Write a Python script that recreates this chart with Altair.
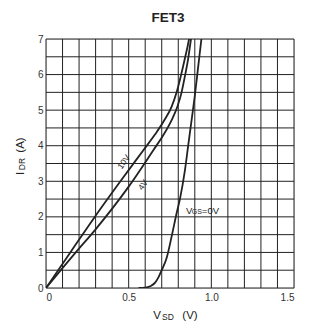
import altair as alt
import pandas as pd

# ---- data ----
v10_vsd = [0, 0.15, 0.28, 0.45, 0.59, 0.66, 0.72, 0.76, 0.79, 0.815, 0.84, 0.865, 0.875]
v10_idr = [0, 1.02, 1.9, 3.0, 3.88, 4.32, 4.75, 5.1, 5.5, 5.95, 6.45, 7.0, 7.3]

v4_vsd = [0, 0.18, 0.3, 0.5, 0.65, 0.71, 0.76, 0.795, 0.82, 0.84, 0.86, 0.877, 0.887]
v4_idr = [0, 1.0, 1.65, 2.85, 3.88, 4.3, 4.72, 5.1, 5.5, 5.95, 6.45, 7.0, 7.3]

v0_vsd = [0.56, 0.60, 0.63, 0.66, 0.68, 0.70, 0.73, 0.76, 0.79, 0.81, 0.84, 0.86, 0.88, 0.90, 0.92, 0.94, 0.945]
v0_idr = [0, 0.01, 0.05, 0.15, 0.3, 0.5, 0.85, 1.45, 2.1, 2.5, 3.3, 4.0, 4.7, 5.4, 6.2, 7.0, 7.2]

x_grid = [round(i * 0.1, 1) for i in range(16)]
y_grid = [i * 0.5 for i in range(15)]
x_labels = [0, 0.5, 1.0, 1.5]
y_labels = [0, 1, 2, 3, 4, 5, 6, 7]

label_10v = {"text": "10V", "v": 0.47, "i": 3.55}
label_4v = {"text": "4V", "v": 0.585, "i": 2.9}
label_0v = {"v": 0.847, "i": 2.16}

FONT = "Liberation Sans"
INK = "#222222"

rows = []
for name, vs, ids in [("10V", v10_vsd, v10_idr), ("4V", v4_vsd, v4_idr), ("0V", v0_vsd, v0_idr)]:
    for k, (a, b) in enumerate(zip(vs, ids)):
        rows.append({"series": name, "order": k, "vsd": a, "idr": b})
df = pd.DataFrame(rows)

xscale = alt.Scale(domain=[0, 1.5], nice=False, zero=False)
yscale = alt.Scale(domain=[0, 7], nice=False)

xaxis = alt.Axis(
    values=x_labels, grid=False, ticks=False, domain=False, labelOverlap=False,
    labelExpr="datum.value == 0 ? '0' : format(datum.value, '.1f')",
    labelFont=FONT, labelFontSize=10, labelColor="#333333", labelPadding=4,
)
yaxis = alt.Axis(
    values=y_labels, grid=False, ticks=False, domain=False, labelOverlap=False,
    labelExpr="format(datum.value, 'd')",
    labelFont=FONT, labelFontSize=10, labelColor="#333333", labelPadding=3,
)

vgrid = alt.Chart(pd.DataFrame({"g": x_grid})).mark_rule(
    color=INK, strokeWidth=1
).encode(x=alt.X("g:Q", scale=xscale, axis=xaxis, title=None))

hgrid = alt.Chart(pd.DataFrame({"g": y_grid})).mark_rule(
    color=INK, strokeWidth=1
).encode(y=alt.Y("g:Q", scale=yscale, axis=yaxis, title=None))

lines = alt.Chart(df).mark_line(
    clip=True, color=INK, strokeWidth=1.8, interpolate="monotone"
).encode(
    x=alt.X("vsd:Q", scale=xscale, axis=xaxis, title=None),
    y=alt.Y("idr:Q", scale=yscale, axis=yaxis, title=None),
    detail="series:N",
    order="order:Q",
)

def dlabel(d, text, angle=0, size=8, dx=0, dy=0, align="center"):
    return alt.Chart(pd.DataFrame([{"v": d["v"], "i": d["i"]}])).mark_text(
        text=text, angle=angle, fontSize=size, font=FONT, color=INK,
        align=align, baseline="middle", dx=dx, dy=dy
    ).encode(
        x=alt.X("v:Q", scale=xscale, axis=xaxis, title=None),
        y=alt.Y("i:Q", scale=yscale, axis=yaxis, title=None),
    )

lab10 = dlabel(label_10v, label_10v["text"], angle=305, size=8.5)
lab4 = dlabel(label_4v, label_4v["text"], angle=305, size=8.5)
lab0a = dlabel(label_0v, "V", size=9.5, align="left")
lab0b = dlabel(label_0v, "GS", size=7, align="left", dx=5.8, dy=0.8)
lab0c = dlabel(label_0v, "=0V", size=9.5, align="left", dx=15.8)

def ptext(text, x, y, size, angle=0, weight="normal"):
    return alt.Chart(pd.DataFrame([{"t": text}])).mark_text(
        text=text, fontSize=size, font=FONT, color=INK, angle=angle,
        fontWeight=weight, align="center", baseline="middle"
    ).encode(x=alt.value(x), y=alt.value(y))

title = ptext("FET3", 122, -21, 13.5, weight="bold")
xt1 = ptext("V", 111, 276.5, 11.5)
xt2 = ptext("SD", 122, 277.5, 8.5)
xt3 = ptext("(V)", 144, 276.5, 11.5)
yt1 = ptext("I", -25, 134.5, 11.5, angle=270)
yt2 = ptext("DR", -24, 125, 8.5, angle=270)
yt3 = ptext("(A)", -25, 106, 11.5, angle=270)

chart = alt.layer(
    vgrid, hgrid, lines, lab10, lab4, lab0a, lab0b, lab0c,
    title, xt1, xt2, xt3, yt1, yt2, yt3,
).properties(
    width=248, height=249,
    padding={"left": 38, "top": 31, "right": 7, "bottom": 35},
    autosize=alt.AutoSizeParams(type="none"),
).configure_view(
    stroke="#000000", strokeWidth=1.2
).configure(background="white")

chart.save("out.html", embed_options={"renderer": "svg", "actions": False})
